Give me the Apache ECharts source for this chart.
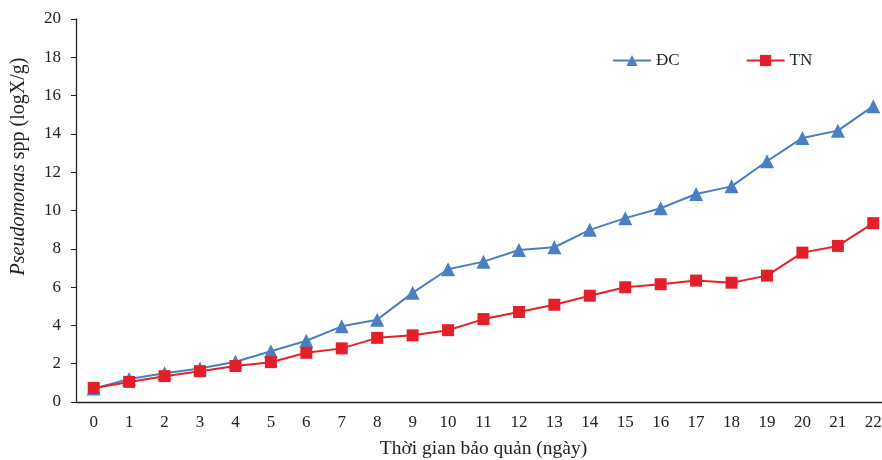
<!DOCTYPE html>
<html>
<head>
<meta charset="utf-8">
<script src="https://cdn.jsdelivr.net/npm/echarts@6/dist/echarts.min.js"></script>
<style>
html, body { margin: 0; padding: 0; background: #fff; }
#chart_con { width: 882px; height: 460px; }
</style>
</head>
<body>
<div id="chart_con"></div>
<script>
const days = ['0', '1', '2', '3', '4', '5', '6', '7', '8', '9', '10', '11',
    '12', '13', '14', '15', '16', '17', '18', '19', '20', '21', '22'];
const dcValues = [0.7, 1.2, 1.5, 1.75, 2.1, 2.65, 3.2, 3.95, 4.3, 5.7, 6.93, 7.33,
    7.94, 8.08, 8.99, 9.6, 10.12, 10.86, 11.26, 12.57, 13.79, 14.17, 15.45];
const tnValues = [0.73, 1.05, 1.35, 1.61, 1.88, 2.08, 2.57, 2.8, 3.35, 3.48, 3.75, 4.33,
    4.7, 5.08, 5.55, 5.99, 6.15, 6.34, 6.23, 6.6, 7.8, 8.15, 9.34];

let chart = echarts.init(document.getElementById('chart_con'));
const font = '"Liberation Serif", "Times New Roman", serif';

const option = {
    animation: false,
    textStyle: { fontFamily: font },
    legend: {
        top: 47,
        left: 607,
        itemWidth: 38,
        itemHeight: 14,
        itemGap: 66,
        textStyle: { fontFamily: font, fontSize: 17, color: '#222' },
        data: ['ĐC', 'TN']
    },
    grid: {
        top: 19,
        left: 76,
        right: -9,
        bottom: 58,
        containLabel: false,
        outerBoundsMode: 'none'
    },
    xAxis: {
        type: 'category',
        data: days,
        name: 'Thời gian bảo quản (ngày)',
        nameLocation: 'middle',
        nameGap: 37,
        nameTextStyle: { fontFamily: font, fontSize: 19.5, color: '#222' },
        axisLine: { lineStyle: { color: '#222', width: 1.3 } },
        axisTick: { length: 5, lineStyle: { color: '#222' } },
        axisLabel: { fontFamily: font, fontSize: 17, color: '#222', margin: 12 }
    },
    yAxis: {
        type: 'value',
        min: 0,
        max: 20,
        interval: 2,
        name: '{i|Pseudomonas} spp (logX/g)',
        nameLocation: 'middle',
        nameGap: 47,
        nameTextStyle: {
            fontFamily: font,
            fontSize: 20,
            color: '#222',
            padding: [0, 0, 0, 88],
            rich: {
                i: { fontFamily: font, fontSize: 20, fontStyle: 'italic', color: '#222' }
            }
        },
        splitLine: { show: false },
        axisLine: { show: true, lineStyle: { color: '#222', width: 1.3 } },
        axisTick: { show: true, length: 5, lineStyle: { color: '#222' } },
        axisLabel: { fontFamily: font, fontSize: 17, color: '#222', margin: 15 }
    },
    series: [
        {
            name: 'ĐC',
            type: 'line',
            data: dcValues,
            symbol: 'triangle',
            symbolSize: 14,
            lineStyle: { color: '#4a7fc1', width: 2 },
            itemStyle: { color: '#4a7fc1' }
        },
        {
            name: 'TN',
            type: 'line',
            data: tnValues,
            symbol: 'rect',
            symbolSize: 12,
            lineStyle: { color: '#e8202a', width: 2 },
            itemStyle: { color: '#e3202a' }
        }
    ]
};

chart.setOption(option);

window.addEventListener('resize', function () {
    chart.resize();
});
</script>
</body>
</html>
